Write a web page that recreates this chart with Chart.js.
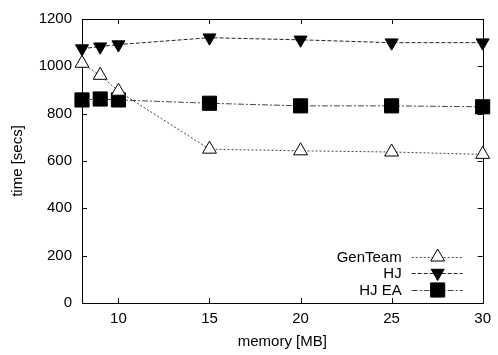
<!DOCTYPE html>
<html lang="en">
<head>
    <meta charset="UTF-8">
    <title>time vs memory</title>
    <script src="https://cdn.jsdelivr.net/npm/chart.js"></script>
    <style>
        body {
            margin: 0;
            padding: 0;
            background-color: #fff;
        }
        .wrap {
            width: 498px;
            height: 355px;
            position: relative;
        }
    </style>
</head>
<body>
    <div class="wrap">
        <canvas id="chart"></canvas>
    </div>

    <script>
        // values
        const memory = [8, 9, 10, 15, 20, 25, 30];
        const genTeam = [1013, 962, 895, 650, 643, 638, 628];
        const hj = [1075, 1083, 1092, 1121, 1112, 1100, 1100];
        const hjEa = [858, 862, 858, 844, 833, 833, 829];
        const xTicks = [10, 15, 20, 25, 30];
        const yTicks = [0, 200, 400, 600, 800, 1000, 1200];
        const seriesNames = ['GenTeam', 'HJ', 'HJ EA'];

        const FONT = { family: '"Liberation Sans", Arial, sans-serif', size: 15 };

        function pts(ys) {
            return memory.map((x, i) => ({ x: x, y: ys[i] }));
        }

        // gnuplot-like frame with inward ticks on all four sides
        const framePlugin = {
            id: 'frame',
            beforeDatasetsDraw(chart) {
                const ctx = chart.ctx;
                const a = chart.chartArea;
                const xs = chart.scales.x, ys = chart.scales.y;
                const len = 5;
                ctx.save();
                ctx.strokeStyle = '#000';
                ctx.lineWidth = 1;
                ctx.strokeRect(Math.round(a.left) + 0.5, Math.round(a.top) + 0.5,
                    Math.round(a.right - a.left), Math.round(a.bottom - a.top));
                ctx.beginPath();
                xTicks.forEach(v => {
                    const px = Math.round(xs.getPixelForValue(v)) + 0.5;
                    ctx.moveTo(px, a.bottom); ctx.lineTo(px, a.bottom - len);
                    ctx.moveTo(px, a.top); ctx.lineTo(px, a.top + len);
                });
                yTicks.forEach(v => {
                    const py = Math.round(ys.getPixelForValue(v)) + 0.5;
                    ctx.moveTo(a.left, py); ctx.lineTo(a.left + len, py);
                    ctx.moveTo(a.right, py); ctx.lineTo(a.right - len, py);
                });
                ctx.stroke();
                ctx.restore();
            }
        };

        // key in the lower right corner, inside the plot
        const keyPlugin = {
            id: 'key',
            afterDraw(chart) {
                const ctx = chart.ctx;
                const a = chart.chartArea;
                const rows = [a.bottom - 46, a.bottom - 30, a.bottom - 13];
                ctx.save();
                ctx.font = FONT.size + 'px ' + FONT.family;
                ctx.textAlign = 'right';
                ctx.textBaseline = 'middle';
                chart.data.datasets.forEach((ds, i) => {
                    const y = rows[i];
                    ctx.fillStyle = '#000';
                    ctx.fillText(ds.label, a.right - 81, y + 1);
                    ctx.beginPath();
                    ctx.strokeStyle = ds.borderColor;
                    ctx.lineWidth = ds.borderWidth;
                    ctx.setLineDash(ds.borderDash);
                    ctx.moveTo(a.right - 71, y + 0.5);
                    ctx.lineTo(a.right - 20, y + 0.5);
                    ctx.stroke();
                    ctx.setLineDash([]);
                    ctx.fillStyle = ds.pointBackgroundColor;
                    ctx.strokeStyle = ds.pointBorderColor;
                    ctx.lineWidth = ds.pointBorderWidth;
                    Chart.helpers.drawPoint(ctx, {
                        pointStyle: ds.pointStyle,
                        rotation: ds.pointRotation,
                        radius: ds.pointRadius,
                        borderWidth: ds.pointBorderWidth
                    }, a.right - 45, y);
                });
                ctx.restore();
            }
        };

        const ctx = document.getElementById('chart').getContext('2d');
        new Chart(ctx, {
            type: 'scatter',
            data: {
                datasets: [{
                    label: seriesNames[0],
                    data: pts(genTeam),
                    showLine: true,
                    clip: false,
                    borderColor: '#444',
                    borderWidth: 1,
                    borderDash: [2, 2],
                    pointStyle: 'triangle',
                    pointRotation: 0,
                    pointRadius: 8,
                    pointBorderWidth: 1,
                    pointBackgroundColor: '#fff',
                    pointBorderColor: '#000'
                }, {
                    label: seriesNames[1],
                    data: pts(hj),
                    showLine: true,
                    clip: false,
                    borderColor: '#222',
                    borderWidth: 1,
                    borderDash: [4, 2],
                    pointStyle: 'triangle',
                    pointRotation: 180,
                    pointRadius: 7.5,
                    pointBorderWidth: 1,
                    pointBackgroundColor: '#000',
                    pointBorderColor: '#000'
                }, {
                    label: seriesNames[2],
                    data: pts(hjEa),
                    showLine: true,
                    clip: false,
                    borderColor: '#444',
                    borderWidth: 1,
                    borderDash: [6, 2, 2, 2],
                    pointStyle: 'rect',
                    pointRotation: 0,
                    pointRadius: 10,
                    pointBorderWidth: 1,
                    pointBackgroundColor: '#000',
                    pointBorderColor: '#000'
                }]
            },
            options: {
                responsive: true,
                maintainAspectRatio: false,
                animation: false,
                layout: { padding: { top: 13, right: 8, left: 0, bottom: 0 } },
                plugins: {
                    legend: { display: false },
                    tooltip: { enabled: false }
                },
                scales: {
                    x: {
                        type: 'linear',
                        min: 8,
                        max: 30,
                        afterBuildTicks: s => { s.ticks = xTicks.map(v => ({ value: v })); },
                        afterFit: s => { s.height = 52; },
                        grid: { display: false, drawTicks: false },
                        border: { display: false },
                        ticks: { color: '#000', font: FONT, padding: 7, maxRotation: 0, callback: v => String(v) },
                        title: { display: true, text: 'memory [MB]', color: '#000', font: FONT, padding: { top: 0, bottom: 4 } }
                    },
                    y: {
                        min: 0,
                        max: 1200,
                        afterBuildTicks: s => { s.ticks = yTicks.map(v => ({ value: v })); },
                        afterFit: s => { s.width = 82; },
                        grid: { display: false, drawTicks: false },
                        border: { display: false },
                        ticks: { color: '#000', font: FONT, padding: 10, callback: v => String(v) },
                        title: { display: true, text: 'time [secs]', color: '#000', font: FONT, padding: { top: 9, bottom: 0 } }
                    }
                }
            },
            plugins: [framePlugin, keyPlugin]
        });
    </script>
</body>
</html>
